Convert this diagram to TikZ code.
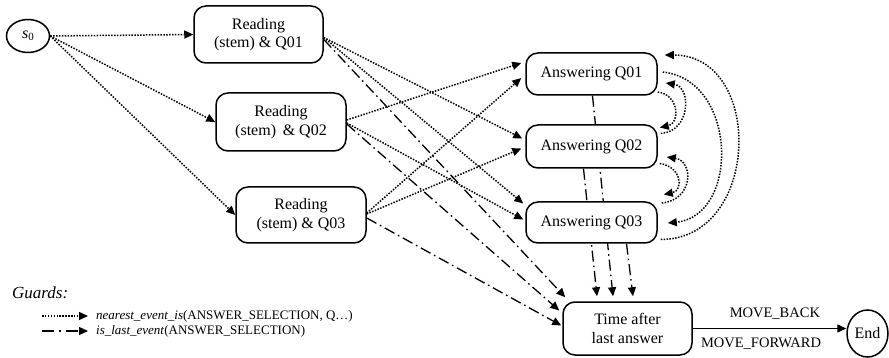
\documentclass[tikz,border=0pt]{standalone}
\usepackage{fontspec}
\setmainfont{Liberation Serif}
\usetikzlibrary{arrows.meta,calc,backgrounds,shapes.geometric}
\tikzset{
  box/.style={draw, line width=1.5pt, rounded corners=12pt, fill=white, align=center,
    font=\fontsize{16}{18.5}\selectfont, inner sep=0pt},
  oval/.style={draw, ellipse, line width=1.5pt, fill=white, inner sep=0pt,
    font=\fontsize{16}{18.5}\selectfont},
  tip/.style={-{Triangle[length=9pt,width=8pt]}},
  dotarrow/.style={tip, line width=1.5pt, dash pattern=on 1.5pt off 1.4pt},
  dasharrow/.style={tip, line width=1.3pt, dash pattern=on 11pt off 4pt on 1.6pt off 4pt},
  solidarrow/.style={tip, line width=1.3pt},
  lbl/.style={font=\fontsize{14.5}{16}\selectfont, inner sep=0pt},
  legend/.style={font=\fontsize{13}{15}\selectfont, anchor=west, inner sep=0pt}
}
\begin{document}
\begin{tikzpicture}[x=1pt,y=-1pt]
\useasboundingbox (0,0) rectangle (889,358);

% nodes
\node[oval, minimum width=43pt, minimum height=33pt] (s0) at (28,36)
  {\textit{s}\raisebox{-0.3ex}{\fontsize{11}{11}\selectfont 0}};
\node[box, minimum width=129pt, minimum height=57pt] (r1) at (258.5,34.5) {Reading\\(stem) \& Q01};
\node[box, minimum width=130pt, minimum height=58pt] (r2) at (281,122) {Reading\\(stem)\, \& Q02};
\node[box, minimum width=130pt, minimum height=56pt] (r3) at (301,215) {Reading\\(stem) \& Q03};
\node[box, minimum width=131pt, minimum height=42pt] (a1) at (591.5,74) {Answering Q01};
\node[box, minimum width=131pt, minimum height=43pt] (a2) at (591.5,146.5) {Answering Q02};
\node[box, minimum width=131pt, minimum height=41pt] (a3) at (591.5,222.5) {Answering Q03};
\node[box, minimum width=129pt, minimum height=53pt] (t) at (627.5,328.5) {Time after\\last answer};
\node[oval, minimum width=41pt, minimum height=47pt] (fin) at (867.5,333.5) {End};

% legend
\node[font=\fontsize{17}{19}\selectfont\itshape, anchor=west, inner sep=0pt] (guards) at (12,293) {Guards:};
\coordinate (l1a) at (42,316);
\coordinate (l1b) at (88,316);
\coordinate (l2a) at (42,331);
\coordinate (l2b) at (88,331);
\node[legend] (g1) at (96,316) {\textit{nearest\_event\_is}(ANSWER\_SELECTION, Q…)};
\node[legend] (g2) at (96,331) {\textit{is\_last\_event}(ANSWER\_SELECTION)};
\draw[dotarrow] (l1a) -- (l1b);
\draw[dasharrow, dash pattern=on 12pt off 5pt on 1.6pt off 5pt] (l2a) -- (l2b);

\begin{pgfonlayer}{background}
% start to reading
\draw[dotarrow] (s0.east) -- (r1.west);
\draw[dotarrow] (s0.east) -- (r2.west);
\draw[dotarrow] (s0.east) -- (r3.west);
% reading to answering
\draw[dotarrow] ($(r1.east)+(0,3)$) -- ($(a2.west)+(-3,-8)$);
\draw[dotarrow] ($(r1.east)+(0,3)$) -- ($(a3.west)+(-2,-19)$);
\draw[dotarrow] ($(r2.east)+(0,-2)$) -- ($(a1.west)+(-4,-11)$);
\draw[dotarrow] ($(r2.east)+(0,1)$) -- ($(a3.west)+(-2,-3)$);
\draw[dotarrow] ($(r3.east)+(0,-2)$) -- ($(a1.west)+(-4,4)$);
\draw[dotarrow] ($(r3.east)+(0,-1)$) -- ($(a2.west)+(-4,2)$);
% reading to time
\draw[dasharrow] ($(r1.east)+(0,5)$) -- ($(t.north west)+(3,-4)$);
\draw[dasharrow] ($(r2.east)+(0,2)$) -- ($(t.west)+(-3,-18)$);
\draw[dasharrow] ($(r3.east)+(0,3)$) -- ($(t.west)+(-1,-3)$);
% answering to time
\draw[dasharrow] ($(a1.south)+(1,0)$) -- ($(t.north)+(-14.5,-5)$);
\draw[dasharrow] ($(a2.south)+(-8,0)$) -- ($(t.north)+(-30.5,-5)$);
\draw[dasharrow] ($(a3.south)+(35,0)$) -- ($(t.north)+(5.5,-5)$);
% answering loops
\draw[dotarrow] ($(a1.east)+(0,18)$) .. controls +(22,3) and +(20,-4) .. ($(a2.east)+(2,-19)$);
\draw[dotarrow] ($(a2.east)+(3,-13)$) .. controls +(30,-2) and +(26,4) .. ($(a1.east)+(8,9)$);
\draw[dotarrow] ($(a2.east)+(2,17)$) .. controls +(22,3) and +(20,-4) .. ($(a3.east)+(6,-28)$);
\draw[dotarrow] ($(a3.east)+(4,-19.5)$) .. controls +(32,-3) and +(27,4) .. ($(a2.east)+(9,10.5)$);
\draw[dotarrow] ($(a1.east)+(5,-2)$) .. controls +(75,8) and +(72,-7) .. ($(a3.east)+(10,0.5)$);
\draw[dotarrow] ($(a3.east)+(3,17)$) .. controls +(100,0) and +(100,0) .. ($(a1.east)+(7,-19)$);
% time to end
\draw[solidarrow] (t.east) -- (fin.west |- t.east)
  node[lbl, pos=0.535, above=8pt] {MOVE\_BACK}
  node[lbl, pos=0.445, below=9pt] {MOVE\_FORWARD};
\end{pgfonlayer}
\end{tikzpicture}
\end{document}
